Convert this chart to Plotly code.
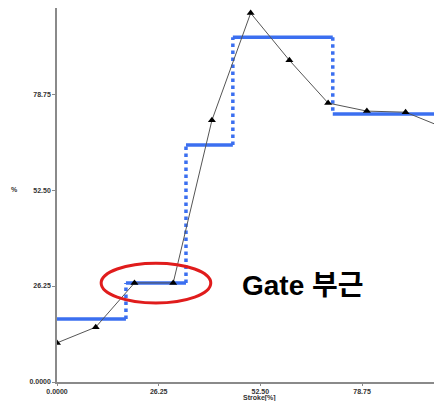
import plotly.graph_objects as go

# Measured curve (black line with triangles)
meas_x = [0, 10, 20, 30, 40, 50, 60, 70, 80, 90, 100]
meas_y = [10.7, 15.0, 27.1, 27.1, 71.6, 100.9, 88.0, 76.3, 74.1, 73.8, 69.5]

# Step curve (blue): edges and levels
step_edges = [0, 17.8, 33.3, 45.4, 71.2, 99.4]
step_levels = [17.2, 27.1, 64.8, 94.3, 73.3]

tick_vals = [0, 26.25, 52.5, 78.75]
x_tick_text = ["0.0000", "26.25", "52.50", "78.75"]
y_tick_text = ["0.0000", "26.25", "52.50", "78.75"]

BLUE = "#3b6ff0"
TICK_FONT = dict(family="Liberation Sans", size=7, color="#333333")

fig = go.Figure()

hx, hy = [], []
for i, lvl in enumerate(step_levels):
    hx += [step_edges[i], step_edges[i + 1], None]
    hy += [lvl, lvl, None]
fig.add_trace(go.Scatter(x=hx, y=hy, mode="lines",
                         line=dict(color=BLUE, width=3.5), hoverinfo="skip"))

vx, vy = [], []
for i in range(1, len(step_levels)):
    vx += [step_edges[i], step_edges[i], None]
    vy += [step_levels[i - 1], step_levels[i], None]
fig.add_trace(go.Scatter(x=vx, y=vy, mode="lines",
                         line=dict(color=BLUE, width=3.5, dash="dot"), hoverinfo="skip"))

fig.add_trace(go.Scatter(x=meas_x, y=meas_y, mode="lines+markers",
                         line=dict(color="#555555", width=1),
                         marker=dict(symbol="triangle-up", size=7, color="black")))

fig.add_shape(type="circle", xref="x", yref="y",
              x0=11.4, x1=39.7, y0=21.6, y1=32.5,
              line=dict(color="#e01c1c", width=3))

fig.add_annotation(x=63.4, y=26.5, xref="x", yref="y", text="<b>Gate 부근</b>",
                   showarrow=False, xanchor="center", yanchor="middle",
                   font=dict(family="Liberation Sans, Noto Sans CJK KR", size=28, color="black"))

L, R, T, B = 49, 0, 0, 19
W, H = 434, 393
PW, PH = W - L - R, H - T - B

fig.update_layout(
    width=W, height=H,
    margin=dict(l=L, r=R, t=T, b=B),
    paper_bgcolor="white", plot_bgcolor="white",
    showlegend=False,
    xaxis=dict(range=[0, 99.4], tickvals=tick_vals, ticktext=["<b>%s</b>" % t for t in x_tick_text],
               showgrid=False, zeroline=False, showline=True, linecolor="#8a8a8a", linewidth=1.5,
               ticks="outside", ticklen=2, tickcolor="#8a8a8a",
               tickfont=TICK_FONT, fixedrange=True, automargin=False),
    yaxis=dict(range=[0, 102.3], tickvals=tick_vals, ticktext=["<b>%s</b>" % t for t in y_tick_text],
               showgrid=False, zeroline=False, showline=True, linecolor="#8a8a8a", linewidth=1.5,
               ticks="outside", ticklen=3, tickcolor="#8a8a8a",
               tickfont=TICK_FONT, fixedrange=True, automargin=False),
)

fig.add_annotation(xref="paper", yref="paper", x=(260 - 8 - L) / PW, y=-(398 - 8 - (T + PH)) / PH,
                   text="<b>Stroke[%]</b>", showarrow=False, xanchor="center", yanchor="middle",
                   font=TICK_FONT)
fig.add_annotation(xref="paper", yref="paper", x=-(L - (14 - 8)) / PW, y=((T + PH) - (189 - 8)) / PH,
                   text="<b>%</b>", showarrow=False, xanchor="center", yanchor="middle",
                   font=TICK_FONT)

fig.write_html("out.html")
